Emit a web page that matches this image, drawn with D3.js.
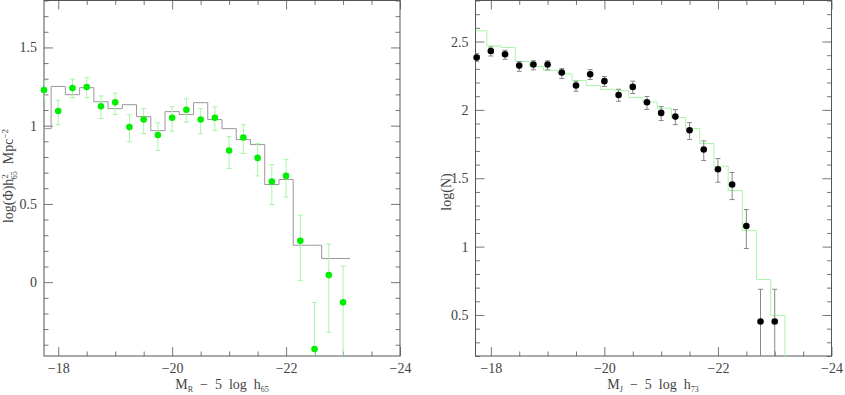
<!doctype html>
<html>
  <head>
    <meta charset="utf-8">
    <title>Luminosity functions</title>
    <script src="https://cdnjs.cloudflare.com/ajax/libs/d3/7.8.5/d3.min.js"></script>
    <style>
      body { margin: 0; background: #fff; }
      text { font-family: "Liberation Serif", "DejaVu Serif", serif; fill: #444; }
      .title { white-space: pre; }
    </style>
  </head>
  <body>
    <div id="chart"></div>
    <script>
      // magnitude bins (both panels)
      const mags = [-17.75, -18, -18.25, -18.5, -18.75, -19, -19.25, -19.5, -19.75, -20, -20.25,
                    -20.5, -20.75, -21, -21.25, -21.5, -21.75, -22, -22.25, -22.5, -22.75, -23];

      // left panel: green points, log(Phi)
      const logPhi = [1.228, 1.094, 1.240, 1.247, 1.124, 1.149, 0.991, 1.039, 0.940, 1.051, 1.102,
                      1.039, 1.051, 0.841, 0.924, 0.794, 0.643, 0.679, 0.264, -0.427, 0.045, -0.129];
      const phiErrUp = [0.062, 0.068, 0.057, 0.060, 0.066, 0.059, 0.079, 0.070, 0.079, 0.070, 0.070,
                        0.070, 0.070, 0.089, 0.083, 0.092, 0.108, 0.105, 0.164, 0.298, 0.198, 0.232];
      const phiErrDn = [0.066, 0.087, 0.061, 0.068, 0.078, 0.078, 0.093, 0.089, 0.098, 0.086, 0.079,
                        0.089, 0.083, 0.115, 0.102, 0.115, 0.147, 0.136, 0.253, 1.0, 0.366, 1.0];
      // left panel: gray histogram
      const histEdgesL = [-17.75, -17.875, -18.125, -18.375, -18.625, -18.875, -19.125, -19.375, -19.625,
                          -19.875, -20.125, -20.375, -20.625, -20.875, -21.125, -21.375, -21.625,
                          -21.875, -22.125, -22.375, -22.625, -22.875, -23.125];
      const histL = [0.981, 1.251, 1.198, 1.243, 1.153, 1.109, 1.134, 1.058, 0.968, 1.090, 1.071,
                     1.147, 1.039, 0.981, 0.911, 0.879, 0.624, 0.656, 0.236, 0.236, 0.151, 0.151];

      // right panel: black points, log(N)
      const logN = [2.383, 2.431, 2.407, 2.324, 2.332, 2.332, 2.273, 2.178, 2.261, 2.210, 2.109,
                    2.168, 2.056, 1.978, 1.951, 1.851, 1.710, 1.566, 1.454, 1.151, 0.452, 0.452];
      const nErrUp = [0.030, 0.029, 0.029, 0.029, 0.027, 0.027, 0.029, 0.031, 0.034, 0.034, 0.042,
                      0.042, 0.042, 0.047, 0.051, 0.056, 0.063, 0.078, 0.088, 0.120, 0.236, 0.236];
      const nErrDn = [0.030, 0.037, 0.037, 0.042, 0.039, 0.039, 0.044, 0.042, 0.039, 0.039, 0.046,
                      0.048, 0.053, 0.056, 0.059, 0.068, 0.080, 0.095, 0.110, 0.165, 1.0, 1.0];
      // right panel: green histogram
      const histEdgesR = [-17.73, -17.93, -18.18, -18.43, -18.68, -18.93, -19.18, -19.43, -19.68, -19.93,
                          -20.18, -20.43, -20.68, -20.93, -21.18, -21.43, -21.68, -21.93, -22.18,
                          -22.43, -22.68, -22.93, -23.18];
      const histR = [2.578, 2.468, 2.456, 2.354, 2.317, 2.290, 2.263, 2.215, 2.178, 2.150, 2.140,
                     2.090, 2.058, 2.012, 1.944, 1.864, 1.754, 1.588, 1.410, 1.117, 0.759, 0.496];

      // tick labels
      const xMajor = [-18, -20, -22, -24];
      const yMajorL = [0, 0.5, 1, 1.5];
      const yMajorR = [0.5, 1, 1.5, 2, 2.5];

      const svg = d3.select('#chart').append('svg')
        .attr('width', 845).attr('height', 395);

      const fmt = d3.format('');

      function drawPanel(p) {
        const x = d3.scaleLinear().domain(p.xDomain).range([p.left, p.right]);
        const y = d3.scaleLinear().domain(p.yDomain).range([p.bottom, p.top]);
        const g = svg.append('g');

        const xMinor = d3.range(-18, -24, -0.5).filter(v => !xMajor.includes(v));
        const yMinor = d3.range(Math.ceil(p.yDomain[0] * 10), Math.floor(p.yDomain[1] * 10) + 1)
          .map(v => v / 10).filter(v => !p.yMajor.some(m => Math.abs(m - v) < 1e-6));

        const clipId = 'clip' + p.id;
        svg.append('clipPath').attr('id', clipId).append('rect')
          .attr('x', p.left).attr('y', p.top)
          .attr('width', p.right - p.left).attr('height', p.bottom - p.top);

        // axes: major ticks (labelled on bottom/left), minor ticks, all inward
        const axes = [
          [d3.axisBottom(x).tickValues(xMajor).tickSize(-9).tickFormat(fmt), `translate(0,${p.bottom})`],
          [d3.axisBottom(x).tickValues(xMinor).tickSize(-4.5).tickFormat(''), `translate(0,${p.bottom})`],
          [d3.axisTop(x).tickValues(xMajor).tickSize(-9).tickFormat(''), `translate(0,${p.top})`],
          [d3.axisTop(x).tickValues(xMinor).tickSize(-4.5).tickFormat(''), `translate(0,${p.top})`],
          [d3.axisLeft(y).tickValues(p.yMajor).tickSize(-9).tickFormat(fmt), `translate(${p.left},0)`],
          [d3.axisLeft(y).tickValues(yMinor).tickSize(-4.5).tickFormat(''), `translate(${p.left},0)`],
          [d3.axisRight(y).tickValues(p.yMajor).tickSize(-9).tickFormat(''), `translate(${p.right},0)`],
          [d3.axisRight(y).tickValues(yMinor).tickSize(-4.5).tickFormat(''), `translate(${p.right},0)`]
        ];
        axes.forEach(([ax, tr]) => {
          const a = g.append('g').attr('transform', tr).call(ax.tickSizeOuter(0).tickPadding(7));
          a.attr('font-family', null);
          a.select('.domain').remove();
          a.selectAll('line').attr('stroke', '#777');
          a.selectAll('text').style('font-size', '14px')
            .style('font-family', '"Liberation Serif", serif').attr('fill', '#444');
        });

        g.append('rect')
          .attr('x', p.left).attr('y', p.top)
          .attr('width', p.right - p.left).attr('height', p.bottom - p.top)
          .attr('fill', 'none').attr('stroke', '#555').attr('stroke-width', 1);

        // histogram
        const steps = [];
        p.hist.forEach((v, i) => {
          steps.push([p.histEdges[i], v]);
          steps.push([p.histEdges[i + 1], v]);
        });
        if (p.dropToAxis) steps.push([p.histEdges[p.histEdges.length - 1], p.yDomain[0]]);
        g.append('path')
          .attr('clip-path', `url(#${clipId})`)
          .attr('d', d3.line().x(d => x(d[0])).y(d => y(d[1]))(steps))
          .attr('fill', 'none').attr('stroke', p.histColor).attr('stroke-width', 1);

        // error bars
        const pts = mags.map((m, i) => ({ m, v: p.vals[i], up: p.errUp[i], dn: p.errDn[i] }));
        const eb = g.append('g').attr('clip-path', `url(#${clipId})`)
          .attr('stroke', p.errColor).attr('stroke-width', 1);
        eb.selectAll('.bar').data(pts).join('line')
          .attr('x1', d => x(d.m)).attr('x2', d => x(d.m))
          .attr('y1', d => y(d.v + d.up)).attr('y2', d => y(d.v - d.dn));
        eb.selectAll('.capU').data(pts).join('line')
          .attr('x1', d => x(d.m) - 2.5).attr('x2', d => x(d.m) + 2.5)
          .attr('y1', d => y(d.v + d.up)).attr('y2', d => y(d.v + d.up));
        eb.selectAll('.capD').data(pts.filter(d => d.dn < 0.9)).join('line')
          .attr('x1', d => x(d.m) - 2.5).attr('x2', d => x(d.m) + 2.5)
          .attr('y1', d => y(d.v - d.dn)).attr('y2', d => y(d.v - d.dn));

        g.append('g').selectAll('circle').data(pts).join('circle')
          .attr('cx', d => x(d.m)).attr('cy', d => y(d.v))
          .attr('r', 3.3).attr('fill', p.ptColor);

        return { x, y, g };
      }

      drawPanel({
        id: 'L', left: 44, right: 400, top: 0.5, bottom: 356,
        xDomain: [-17.75, -24], yDomain: [-0.472, 1.8], yMajor: yMajorL,
        vals: logPhi, errUp: phiErrUp, errDn: phiErrDn,
        hist: histL, histEdges: histEdgesL, dropToAxis: false,
        histColor: '#999', errColor: '#a8f5a8', ptColor: '#00ee00'
      });

      drawPanel({
        id: 'R', left: 475.5, right: 831.5, top: 0.5, bottom: 356,
        xDomain: [-17.73, -24], yDomain: [0.2, 2.8], yMajor: yMajorR,
        vals: logN, errUp: nErrUp, errDn: nErrDn,
        hist: histR, histEdges: histEdgesR, dropToAxis: true,
        histColor: '#a8f5a8', errColor: '#888', ptColor: '#000'
      });

      // axis titles
      const tL = svg.append('text').attr('class', 'title')
        .attr('transform', 'translate(13,176) rotate(-90)')
        .attr('text-anchor', 'middle').style('font-size', '14px');
      tL.append('tspan').text('log(Φ)h');
      tL.append('tspan').attr('dy', -5).style('font-size', '9px').text('2');
      tL.append('tspan').attr('dx', -5).attr('dy', 9).style('font-size', '8px').text('65');
      tL.append('tspan').attr('dy', -4).text('  Mpc');
      tL.append('tspan').attr('dy', -5).style('font-size', '9px').text('−2');

      svg.append('text').attr('class', 'title')
        .attr('transform', 'translate(451,192) rotate(-90)')
        .attr('text-anchor', 'middle').style('font-size', '14px')
        .text('log(N)');

      const xtL = svg.append('text').attr('class', 'title')
        .attr('x', 222).attr('y', 389).attr('text-anchor', 'middle').style('font-size', '14px');
      xtL.append('tspan').text('M');
      xtL.append('tspan').attr('dy', 3).style('font-size', '8px').text('R');
      xtL.append('tspan').attr('dy', -3).text('  −  5  log  h');
      xtL.append('tspan').attr('dy', 3).style('font-size', '8px').text('65');

      const xtR = svg.append('text').attr('class', 'title')
        .attr('x', 653).attr('y', 389).attr('text-anchor', 'middle').style('font-size', '14px');
      xtR.append('tspan').text('M');
      xtR.append('tspan').attr('dy', 3).style('font-size', '8px').text('J');
      xtR.append('tspan').attr('dy', -3).text('  −  5  log  h');
      xtR.append('tspan').attr('dy', 3).style('font-size', '8px').text('73');
    </script>
  </body>
</html>
